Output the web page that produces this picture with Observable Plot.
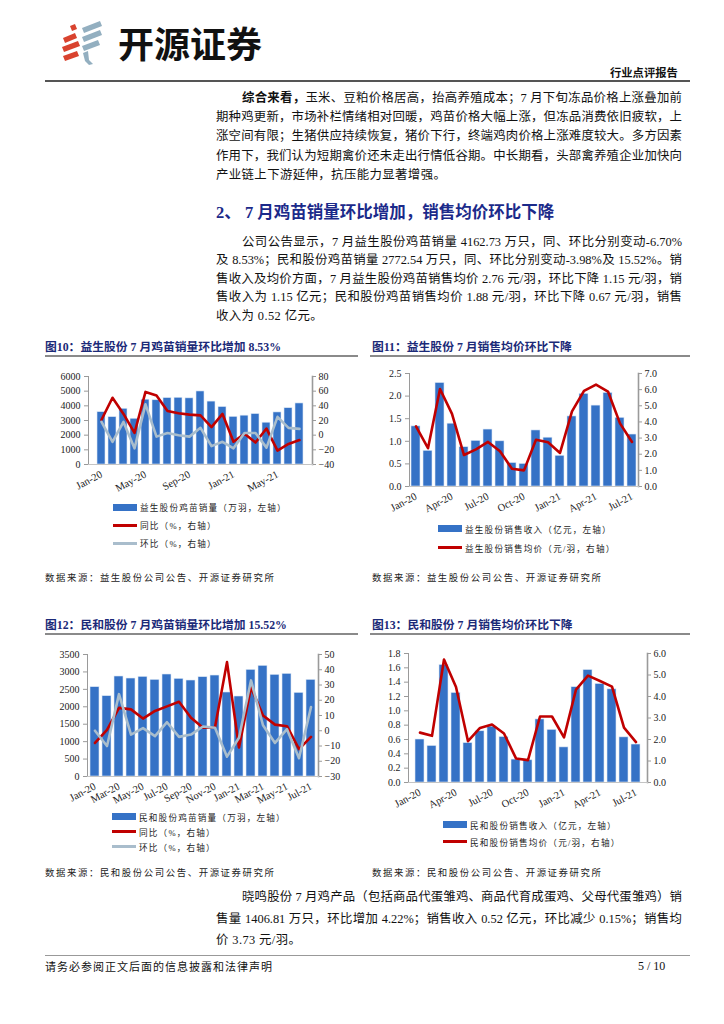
<!DOCTYPE html>
<html><head><meta charset="utf-8">
<script src="https://cdn.jsdelivr.net/npm/d3@7"></script>
<script src="https://cdn.jsdelivr.net/npm/@observablehq/plot@0.6"></script>
<style>
body{margin:0;background:#fff;}
#page{position:relative;width:724px;height:1024px;overflow:hidden;background:#fff;font-family:"Liberation Serif","Noto Sans CJK SC",serif;color:#111;}
.a{position:absolute;white-space:nowrap;}
.tl{position:absolute;left:216px;width:466px;height:18px;line-height:18px;font-size:12.4px;text-align:justify;text-align-last:justify;}
.tl.ind{left:242px;width:440px;}
.tl.last{text-align-last:left;letter-spacing:0.4px;}
.ctitle{position:absolute;font-size:11.8px;font-weight:bold;color:#1B2A78;white-space:nowrap;font-family:"Liberation Serif","Noto Sans CJK SC",serif;}
.uline{position:absolute;height:2px;background:#8a8a8a;}
.src{position:absolute;font-size:9.4px;letter-spacing:1.6px;color:#222;white-space:nowrap;}
.legend{position:absolute;font-size:8.6px;letter-spacing:1.2px;color:#222;}
.legend .it{position:relative;height:18px;display:flex;align-items:center;white-space:nowrap;}
.legend .sw{display:inline-block;width:24px;margin-right:3px;}
.chart{position:absolute;}
</style>
</head><body><div id="page">

<svg class="a" style="left:58px;top:20px" width="50" height="46" viewBox="0 0 50 46">
  <g fill="#D9432F">
    <polygon points="12,6 17,4 19,9 14,11"/>
    <polygon points="5,18 17,13 19,18 7,23"/>
    <polygon points="4,27 20,21 22,26 6,32"/>
    <polygon points="5,36 19,31 21,36 7,41"/>
  </g>
  <g fill="#93AFC0">
    <polygon points="24,8 42,1 44,6 26,13"/>
    <polygon points="24,17 42,10 44,15 26,22"/>
    <polygon points="24,26 40,20 42,25 26,31"/>
    <polygon points="25,33 30,31 31,40 35,44 31,45 27,41"/>
  </g>
</svg>
<div class="a" style="left:118px;top:20px;font-size:36px;font-weight:bold;font-family:'Noto Sans CJK SC';color:#111;line-height:44px;">开源证券</div>
<div class="a" style="left:610px;top:64px;font-size:11.3px;font-weight:bold;font-family:'Noto Sans CJK SC';line-height:16px;">行业点评报告</div>
<div class="a" style="left:45px;top:80px;width:645px;height:2px;background:#555;"></div>

<div id="text1"></div>
<div class="a" style="left:216px;top:201px;font-size:16.5px;font-weight:bold;color:#1B2A8A;line-height:24px;font-family:'Liberation Serif','Noto Sans CJK SC';">2、 7 月鸡苗销量环比增加，销售均价环比下降</div>
<div id="text2"></div>

<div class="ctitle" style="left:45px;top:337px;">图10：益生股份 7 月鸡苗销量环比增加 8.53%</div>
<div class="uline" style="left:45px;top:355px;width:313px;"></div>
<div class="ctitle" style="left:372px;top:337px;">图11：益生股份 7 月销售均价环比下降</div>
<div class="uline" style="left:370px;top:355px;width:320px;"></div>

<div id="c10" class="chart" style="left:40px;top:366px;"></div>
<div id="c11" class="chart" style="left:360px;top:363px;"></div>
<div id="l10" class="legend" style="left:113px;top:498px;"></div>
<div id="l11" class="legend" style="left:438px;top:519px;"></div>
<div class="src" style="left:45px;top:570px;">数据来源：益生股份公司公告、开源证券研究所</div>
<div class="src" style="left:372px;top:570px;">数据来源：益生股份公司公告、开源证券研究所</div>

<div class="ctitle" style="left:45px;top:615px;">图12：民和股份 7 月鸡苗销量环比增加 15.52%</div>
<div class="uline" style="left:45px;top:633px;width:313px;"></div>
<div class="ctitle" style="left:372px;top:615px;">图13：民和股份 7 月销售均价环比下降</div>
<div class="uline" style="left:370px;top:633px;width:320px;"></div>

<div id="c12" class="chart" style="left:40px;top:644px;"></div>
<div id="c13" class="chart" style="left:360px;top:643px;"></div>
<div id="l12" class="legend" style="left:112px;top:809px;height:54px;"></div>
<div id="l13" class="legend" style="left:443px;top:816px;"></div>
<div class="src" style="left:45px;top:865px;">数据来源：民和股份公司公告、开源证券研究所</div>
<div class="src" style="left:372px;top:865px;">数据来源：民和股份公司公告、开源证券研究所</div>

<div id="text3"></div>

<div class="a" style="left:45px;top:955px;width:645px;height:1px;background:#999;"></div>
<div class="a" style="left:45px;top:959px;font-size:11px;letter-spacing:1px;line-height:16px;">请务必参阅正文后面的信息披露和法律声明</div>
<div class="a" style="left:638px;top:958px;font-size:12px;line-height:16px;">5 / 10</div>

</div>
<script>
// ---------- text ----------
const para1 = [
  "<b>综合来看，</b>玉米、豆粕价格居高，抬高养殖成本；7 月下旬冻品价格上涨叠加前",
  "期种鸡更新，市场补栏情绪相对回暖，鸡苗价格大幅上涨，但冻品消费依旧疲软，上",
  "涨空间有限；生猪供应持续恢复，猪价下行，终端鸡肉价格上涨难度较大。多方因素",
  "作用下，我们认为短期禽价还未走出行情低谷期。中长期看，头部禽养殖企业加快向",
  "产业链上下游延伸，抗压能力显著增强。"
];
const para2 = [
  "公司公告显示，7 月益生股份鸡苗销量 4162.73 万只，同、环比分别变动-6.70%",
  "及 8.53%；民和股份鸡苗销量 2772.54 万只，同、环比分别变动-3.98%及 15.52%。销",
  "售收入及均价方面，7 月益生股份鸡苗销售均价 2.76 元/羽，环比下降 1.15 元/羽，销",
  "售收入为 1.15 亿元；民和股份鸡苗销售均价 1.88 元/羽，环比下降 0.67 元/羽，销售",
  "收入为 0.52 亿元。"
];
const para3 = [
  "晓鸣股份 7 月鸡产品（包括商品代蛋雏鸡、商品代育成蛋鸡、父母代蛋雏鸡）销",
  "售量 1406.81 万只，环比增加 4.22%；销售收入 0.52 亿元，环比减少 0.15%；销售均",
  "价 3.73 元/羽。"
];
function writePara(id, lines, top, step){
  const host = document.getElementById(id);
  lines.forEach((t,i)=>{
    const d = document.createElement("div");
    d.className = "tl" + (i===0?" ind":"") + (i===lines.length-1?" last":"");
    d.style.top = (top + i*step - 9) + "px";
    d.innerHTML = t;
    host.appendChild(d);
  });
}
writePara("text1", para1, 98, 19.2);
writePara("text2", para2, 242, 18.4);
writePara("text3", para3, 897, 21.5);

// ---------- data ----------
const months = ["Jan-20","Feb-20","Mar-20","Apr-20","May-20","Jun-20","Jul-20","Aug-20","Sep-20","Oct-20","Nov-20","Dec-20",
                "Jan-21","Feb-21","Mar-21","Apr-21","May-21","Jun-21","Jul-21"];

// 图10 益生股份鸡苗销量
const ysVolume = [3570,3230,3800,3120,4420,4380,4530,4550,4510,4980,4290,3920,3250,3330,3440,2850,3550,3840,4163];
const ysYoY    = [21,51,29,3,59,54,33,30,28,27,11,29,-9,2,-10,9,-21,-12,-6.70];
const ysMoM    = [18,-9,18,-18,42,-2,3,0,-2,10,-15,-9,-18,3,3,-17,25,10,8.53];
// 图11 益生股份销售收入/均价
const ysRevenue = [1.33,0.79,2.29,1.39,0.87,1.01,1.26,1.00,0.52,0.50,1.24,1.08,0.68,1.55,2.05,1.79,2.07,1.52,1.15];
const ysPrice   = [3.72,2.37,6.04,4.50,1.95,2.30,2.76,2.18,1.10,1.00,2.89,2.74,2.08,4.65,5.92,6.31,5.88,3.91,2.76];
// 图12 民和股份鸡苗销量
const mhVolume = [2563,2305,2869,2811,2859,2773,2926,2802,2754,2850,2897,2410,2295,3060,3175,2917,2945,2400,2773];
const mhYoY    = [-8,0.6,15,14,8,13,16,19,8.5,2,2.3,45,-11,28.5,10,4,3,-12,-3.98];
const mhMoM    = [0,-10,24,-2.5,1.7,-3.5,5.6,-4,-2.5,2.8,2,-17,-4.6,33,3.6,-8,1,-18,15.52];
// 图13 民和股份销售收入/均价
const mhRevenue = [0.60,0.51,1.64,1.25,0.55,0.715,0.78,0.635,0.32,0.31,0.88,0.735,0.49,1.33,1.57,1.375,1.30,0.63,0.53];
const mhPrice   = [2.32,2.17,5.72,4.44,1.92,2.54,2.70,2.28,1.12,1.04,3.07,3.07,2.10,4.32,4.97,4.72,4.46,2.55,1.88];

// tick labels
const xTicks10 = ["Jan-20","May-20","Sep-20","Jan-21","May-21"];
const xTicks11 = ["Jan-20","Apr-20","Jul-20","Oct-20","Jan-21","Apr-21","Jul-21"];
const xTicks12 = ["Jan-20","Mar-20","May-20","Jul-20","Sep-20","Nov-20","Jan-21","Mar-21","May-21","Jul-21"];
const xTicks13 = xTicks11;
const left10 = [0,1000,2000,3000,4000,5000,6000];
const right10 = [-40,-20,0,20,40,60,80];
const left11 = [0,0.5,1.0,1.5,2.0,2.5];
const right11 = [0,1,2,3,4,5,6,7];
const left12 = [0,500,1000,1500,2000,2500,3000,3500];
const right12 = [-30,-20,-10,0,10,20,30,40,50];
const left13 = [0,0.2,0.4,0.6,0.8,1.0,1.2,1.4,1.6,1.8];
const right13 = [0,1,2,3,4,5,6];

// legend labels
const legend10 = ["益生股份鸡苗销量（万羽，左轴）","同比（%，右轴）","环比（%，右轴）"];
const legend11 = ["益生股份销售收入（亿元，左轴）","益生股份销售均价（元/羽，右轴）"];
const legend12 = ["民和股份鸡苗销量（万羽，左轴）","同比（%，右轴）","环比（%，右轴）"];
const legend13 = ["民和股份销售收入（亿元，左轴）","民和股份销售均价（元/羽，右轴）"];

const BLUE = "#3572C6", RED = "#C00000", GRAY = "#A9BDCC", AXIS = "#9a9a9a";
const f0 = d3.format("d"), f1 = d3.format(".1f");

function dual(cfg){
  const [l0,l1] = cfg.leftDomain, [r0,r1] = cfg.rightDomain;
  const toL = v => l0 + (v - r0)/(r1 - r0)*(l1 - l0);
  const toR = v => r0 + (v - l0)/(l1 - l0)*(r1 - r0);
  const bars = months.map((m,i)=>({m, v: cfg.bars[i]}));
  const lineMarks = cfg.lines.map(s => Plot.line(months.map((m,i)=>({m, v: toL(s.values[i])})),
      {x:"m", y:"v", stroke:s.color, strokeWidth:2.6}));
  const svg = Plot.plot({
    width: cfg.width, height: cfg.height,
    marginLeft: cfg.ml, marginRight: cfg.mr, marginTop: cfg.mt, marginBottom: cfg.mb,
    x: {type:"band", domain: months, paddingInner: cfg.gap, paddingOuter: cfg.gap/2, label: null},
    y: {domain: cfg.leftDomain, label: null},
    style: {background:"transparent", fontFamily:"'Liberation Serif','Times New Roman',serif", fontSize:"10px", color:"#222", overflow:"visible"},
    marks: [
      Plot.barY(bars, {x:"m", y:"v", fill: BLUE, stroke:"#DCE8F6", strokeWidth:0.6}),
      ...lineMarks,
      Plot.frame({anchor:"left", stroke: AXIS}),
      Plot.frame({anchor:"right", stroke: AXIS, strokeWidth:1.6}),
      Plot.frame({anchor:"bottom", stroke: "#c4c4c4"}),
      Plot.axisY({anchor:"left", label:null, ticks: cfg.leftTicks, tickFormat: cfg.leftFmt, tickSize:4, tickPadding:4, stroke: AXIS, fill:"#222"}),
      Plot.axisY({anchor:"right", label:null, ticks: cfg.rightTicks.map(toL), tickFormat: d => cfg.rightFmt(+toR(d).toFixed(6)), tickSize:3, tickPadding:3, stroke: AXIS, fill:"#222"}),
      Plot.axisX({label:null, ticks: cfg.xTicks, tickRotate:-28, tickSize:0, tickPadding:9, fill:"#222", fontSize:10.5})
    ]
  });
  document.getElementById(cfg.el).appendChild(svg);
}

dual({el:"c10", width:300, height:130, ml:48, mr:28, mt:10, mb:32, gap:0.30,
  bars: ysVolume, lines:[{values: ysYoY, color: RED},{values: ysMoM, color: GRAY}],
  leftDomain:[0,6000], rightDomain:[-40,80], leftTicks:left10, rightTicks:right10, leftFmt:f0, rightFmt:f0, xTicks:xTicks10});
dual({el:"c11", width:310, height:150, ml:49, mr:32, mt:10, mb:27, gap:0.23,
  bars: ysRevenue, lines:[{values: ysPrice, color: RED}],
  leftDomain:[0,2.5], rightDomain:[0,7], leftTicks:left11, rightTicks:right11, leftFmt:f1, rightFmt:f1, xTicks:xTicks11});
dual({el:"c12", width:305, height:165, ml:47, mr:27, mt:10, mb:33, gap:0.26,
  bars: mhVolume, lines:[{values: mhYoY, color: RED},{values: mhMoM, color: GRAY}],
  leftDomain:[0,3500], rightDomain:[-30,50], leftTicks:left12, rightTicks:right12, leftFmt:f0, rightFmt:f0, xTicks:xTicks12});
dual({el:"c13", width:320, height:170, ml:48, mr:33, mt:10, mb:31, gap:0.23,
  bars: mhRevenue, lines:[{values: mhPrice, color: RED}],
  leftDomain:[0,1.8], rightDomain:[0,6], leftTicks:left13, rightTicks:right13, leftFmt:f1, rightFmt:f1, xTicks:xTicks13});

// legends
function legend(id, labels, kinds, rowH){
  const host = document.getElementById(id);
  labels.forEach((t,i)=>{
    const row = document.createElement("div");
    row.className = "it"; row.style.height = rowH + "px";
    const sw = document.createElement("span");
    sw.className = "sw";
    const k = kinds[i];
    sw.style.height = k==="bar" ? "7px" : "3px";
    sw.style.background = k==="bar" ? BLUE : (k==="red" ? RED : GRAY);
    row.appendChild(sw);
    const tx = document.createElement("span"); tx.textContent = t; row.appendChild(tx);
    host.appendChild(row);
  });
}
legend("l10", legend10, ["bar","red","gray"], 18);
legend("l11", legend11, ["bar","red"], 19);
legend("l12", legend12, ["bar","red","gray"], 15);
legend("l13", legend13, ["bar","red"], 17);
</script>
</body></html>
